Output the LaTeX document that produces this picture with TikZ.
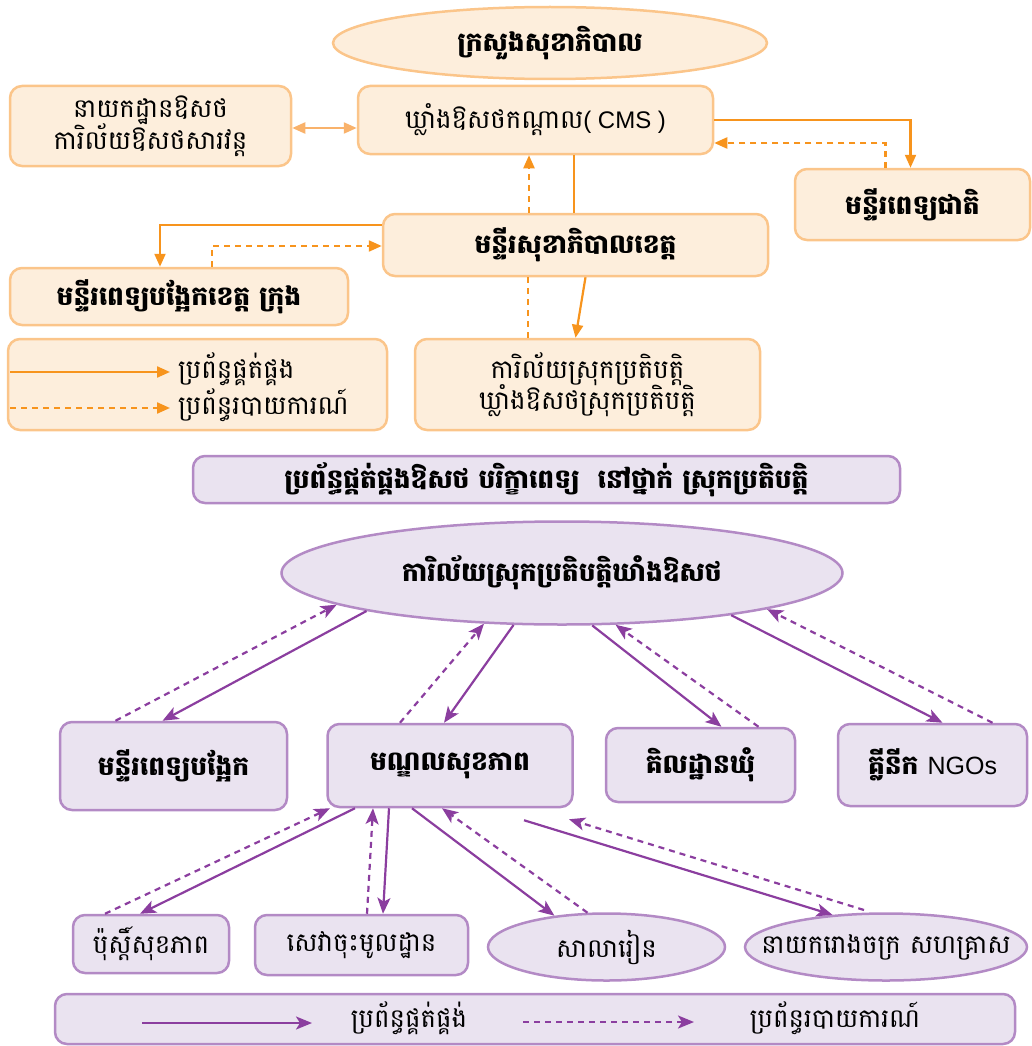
\documentclass[tikz,border=0pt]{standalone}
\usepackage{fontspec}
\usetikzlibrary{arrows.meta,shapes.geometric,calc}
\newfontfamily\km[Script=Khmer]{Battambang}
\newfontfamily\lat{Liberation Sans}
\newcommand\kmr{\km\fontsize{26}{36}\selectfont}
\newcommand\kmbd{\km\bfseries\fontsize{26.5}{36}\selectfont}
\definecolor{ofill}{HTML}{FDEEDC}
\definecolor{oline}{HTML}{FBC58A}
\definecolor{oarr}{HTML}{F7941D}
\definecolor{oarrl}{HTML}{F9B26B}
\definecolor{pfill}{HTML}{EAE3F0}
\definecolor{pline}{HTML}{B38AC5}
\definecolor{parr}{HTML}{8B3E9F}
\tikzset{
  obox/.style={draw=oline, fill=ofill, line width=2.5pt, rounded corners=12pt, inner sep=0pt, align=center},
  oell/.style={ellipse, draw=oline, fill=ofill, line width=2.5pt, inner xsep=-80pt, inner ysep=-20pt, align=center},
  pbox/.style={draw=pline, fill=pfill, line width=2.5pt, rounded corners=12pt, inner sep=0pt, align=center},
  pell/.style={ellipse, draw=pline, fill=pfill, line width=2.5pt, inner xsep=-80pt, inner ysep=-20pt, align=center},
  oplain/.style={draw=oarr, line width=2.2pt},
  osup/.style={oplain, -{Triangle[length=13pt,width=11pt]}},
  orep/.style={osup, dash pattern=on 6pt off 5pt},
  psup/.style={draw=parr, line width=2.2pt, -{Stealth[length=16pt,width=13pt,inset=4pt]}},
  prep/.style={psup, dash pattern=on 6pt off 5pt},
}
\begin{document}
\begin{tikzpicture}[x=1pt,y=-1pt]
\useasboundingbox (0,0) rectangle (1031,1046);
% ---------- orange part ----------
\node[oell, minimum width=434pt, minimum height=72pt] (moh) at (550,43) {\kmbd ក្រសួងសុខាភិបាល};
\node[obox, minimum width=281pt, minimum height=80pt] (dep) at (150.5,126) {\kmr នាយកដ្ឋានឱសថ\\[-2pt]\kmr ការិល័យឱសថសារវន្ត};
\node[obox, minimum width=355pt, minimum height=68pt] (cms) at (535.5,120) {\kmr ឃ្លាំងឱសថកណ្ដាល{\lat\fontsize{24}{26}\selectfont( CMS )}};
\node[obox, minimum width=235pt, minimum height=71pt] (nat) at (912.5,204.5) {\kmbd មន្ទីរពេទ្យជាតិ};
\node[obox, minimum width=385pt, minimum height=62pt] (pro) at (575.5,245) {\kmbd មន្ទីរសុខាភិបាលខេត្ត};
\node[obox, minimum width=338pt, minimum height=57pt] (ref) at (179,296.5) {\kmbd មន្ទីរពេទ្យបង្អែកខេត្ត ក្រុង};
\node[obox, minimum width=379pt, minimum height=91pt] (leg1) at (197.5,384.5) {};
\node[obox, minimum width=345pt, minimum height=91pt] (od) at (587.5,384.5) {\kmr ការិល័យស្រុកប្រតិបត្តិ\\[-2pt]\kmr ឃ្លាំងឱសថស្រុកប្រតិបត្តិ};
% legend 1
\coordinate (l1a) at (10,372);
\coordinate (l1b) at (170,372);
\coordinate (l1c) at (10,408);
\coordinate (l1d) at (170,408);
\node[anchor=west, inner sep=0pt] (lt1) at (178,369) {\kmr ប្រព័ន្ធផ្គត់ផ្គង};
\node[anchor=west, inner sep=0pt] (lt2) at (178,405) {\kmr ប្រព័ន្ធរបាយការណ៍};
\draw[osup] (l1a) -- (l1b);
\draw[orep] (l1c) -- (l1d);
% orange connectors
\draw[draw=oarrl, line width=2.2pt, {Triangle[length=13pt,width=11pt]}-{Triangle[length=13pt,width=11pt]}] ([yshift=-2pt]dep.east) -- ([yshift=-2pt]dep.east -| cms.west);
\draw[osup] (cms.east) -| ([xshift=-2pt]nat.north);
\draw[orep] ([xshift=-27pt]nat.north) |- ([yshift=-23pt]cms.east);
\draw[oplain] ([xshift=-1.5pt]pro.north) -- ([xshift=-1.5pt]pro.north |- cms.south);
\draw[orep] ([xshift=-46.5pt]pro.north) -- ([xshift=-46.5pt]pro.north |- cms.south);
\draw[oplain, dash pattern=on 6pt off 5pt] ([xshift=-59.5pt]od.north) -- ([xshift=-59.5pt]od.north |- pro.south);
\draw[osup] ([xshift=10pt]pro.south) -- ([xshift=-12pt]od.north);
\draw[osup] ([yshift=20pt]pro.west) -| ([xshift=-19pt]ref.north);
\draw[orep] ([xshift=33pt]ref.north) |- ([yshift=-1pt]pro.west);
% ---------- purple part ----------
\node[pbox, minimum width=707pt, minimum height=47pt] (title) at (546.5,479.5) {\kmbd ប្រព័ន្ធផ្គត់ផ្គងឱសថ បរិក្ខាពេទ្យ\ \ នៅថ្នាក់ ស្រុកប្រតិបត្តិ};
\node[pell, minimum width=561pt, minimum height=103pt] (ell) at (562,573) {\kmbd ការិល័យស្រុកប្រតិបត្តិឃាំងឱសថ};
\node[pbox, minimum width=227pt, minimum height=88pt] (b1) at (173.5,766) {\kmbd មន្ទីរពេទ្យបង្អែក};
\node[pbox, minimum width=245pt, minimum height=83pt] (hc) at (450,765.5) {\kmbd មណ្ឌលសុខភាព};
\node[pbox, minimum width=189pt, minimum height=74pt] (com) at (700.5,765) {\kmbd គិលដ្ឋានឃុំ};
\node[pbox, minimum width=189pt, minimum height=82pt] (ngo) at (932.5,765) {\kmbd គ្លីនីក {\lat\mdseries\fontsize{25}{26}\selectfont NGOs}};
\node[pbox, minimum width=156pt, minimum height=58pt] (hp) at (151,944) {\kmr ប៉ុស្តិ៍សុខភាព};
\node[pbox, minimum width=213pt, minimum height=60pt] (out) at (361.5,945) {\kmr សេវាចុះមូលដ្ឋាន};
\node[pell, minimum width=237pt, minimum height=67pt] (sch) at (606.5,947) {\kmr សាលារៀន};
\node[pell, minimum width=282pt, minimum height=67pt] (fac) at (886,947) {\kmr នាយករោងចក្រ សហគ្រាស};
\node[pbox, minimum width=960pt, minimum height=50pt] (leg2) at (535,1019) {};
% legend 2
\coordinate (l2a) at (142,1023);
\coordinate (l2b) at (312,1023);
\coordinate (l2c) at (523,1022);
\coordinate (l2d) at (694,1022);
\node[inner sep=0pt] (lt3) at (409,1018) {\kmr ប្រព័ន្ធផ្គត់ផ្គង់};
\node[inner sep=0pt] (lt4) at (835,1018) {\kmr ប្រព័ន្ធរបាយការណ៍};
\draw[psup] (l2a) -- (l2b);
\draw[prep] (l2c) -- (l2d);
% purple connectors (upper)
\draw[psup] (ell.191.4) -- ([xshift=-11pt]b1.north);
\draw[prep] ([xshift=-58pt]b1.north) -- (ell.188.7);
\draw[psup] (ell.227) -- ([xshift=-6pt]hc.north);
\draw[prep] ([xshift=-50pt]hc.north) -- (ell.213.6);
\draw[psup] (ell.300) -- ([xshift=21pt]com.north);
\draw[prep] ([xshift=58pt]com.north) -- (ell.316.5);
\draw[psup] (ell.346.7) -- ([xshift=10pt]ngo.north);
\draw[prep] ([xshift=60pt]ngo.north) -- (ell.350.3);
% purple connectors (lower)
\draw[psup] ([xshift=-95pt]hc.south) -- ([xshift=-11pt]hp.north);
\draw[prep] ([xshift=-46pt]hp.north) -- ([xshift=-120pt]hc.south);
\draw[psup] ([xshift=-61pt]hc.south) -- ([xshift=21.5pt]out.north);
\draw[prep] ([xshift=5.5pt]out.north) -- ([xshift=-77pt]hc.south);
\draw[psup] ([xshift=-38pt]hc.south) -- (sch.149.4);
\draw[prep] (sch.119.2) -- ([xshift=-8pt]hc.south);
\draw[psup] ([xshift=74pt,yshift=-12pt]hc.south) -- (fac.149.2);
\draw[prep] ([xshift=-22pt,yshift=37pt]fac.center) -- ([xshift=119pt,yshift=-11pt]hc.south);
\end{tikzpicture}
\end{document}
